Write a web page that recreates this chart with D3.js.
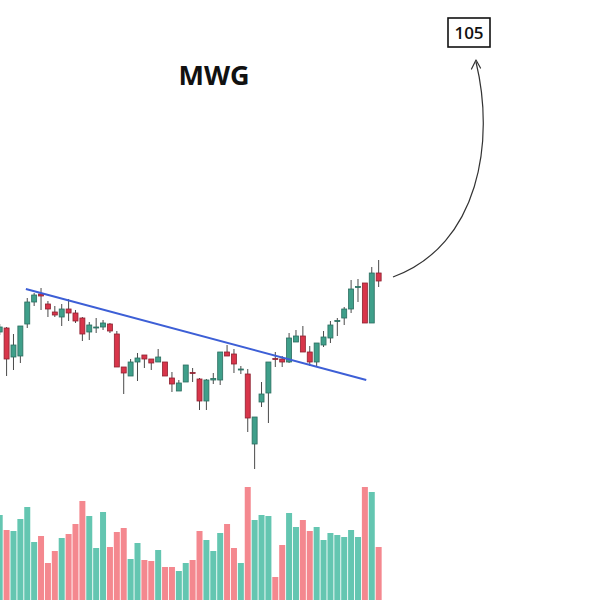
<!DOCTYPE html>
<html>
<head>
<meta charset="utf-8">
<script src="https://cdn.jsdelivr.net/npm/d3@7"></script>
<style>
  html, body { margin: 0; padding: 0; background: #fff; }
  svg { display: block; }
</style>
</head>
<body>
<svg id="chart" width="600" height="600"></svg>
<script>
// Daily sessions (index) with open / high / low / close and volume
const sessions = d3.range(56);
const opens  = [54.8,55.2,52.3,52.4,55.6,57.8,58.6,57.6,56.8,56.3,57.1,56.7,56.2,54.8,55.2,55.3,55.6,54.6,51.3,50.4,51.8,52.5,52.1,51.8,51.8,50.2,48.9,49.8,50.75,50.1,47.9,50.0,50.0,52.8,52.6,51.0,50.6,43.6,47.8,48.7,52.15,52.1,51.8,53.8,54.4,52.8,51.8,53.5,54.2,55.85,56.2,57.1,59.25,59.7,55.7,60.7];
const highs  = [55.6,55.3,54.6,55.4,58.2,58.7,59.2,57.9,57.4,57.6,58.1,57.0,56.3,55.8,56.2,56.0,55.7,54.9,51.3,52.1,52.7,52.5,52.1,53.1,51.8,50.8,50.0,51.5,51.2,50.2,50.1,50.7,52.8,53.5,53.1,51.4,51.1,46.3,49.8,51.8,52.8,52.4,54.7,55.0,55.4,53.4,53.7,54.9,55.9,56.2,57.3,60.0,60.1,59.7,61.3,62.0];
const lows   = [54.5,50.4,51.0,51.7,55.2,57.4,57.0,56.3,56.3,55.4,55.9,55.7,53.9,54.0,54.7,55.0,54.7,51.3,48.6,50.4,49.9,51.2,51.0,51.8,50.4,48.8,48.9,49.8,49.8,47.0,47.0,49.6,49.5,52.4,50.7,50.6,44.8,41.1,47.3,45.7,51.3,51.3,51.7,53.8,52.8,51.4,51.3,53.3,53.7,54.4,55.5,56.7,57.8,55.7,55.7,59.3];
const closes = [55.3,52.1,53.5,55.4,57.8,58.5,58.4,57.1,56.5,57.1,56.7,55.9,54.6,55.5,55.3,55.7,54.9,51.3,50.7,51.8,52.2,52.1,51.7,52.3,50.4,49.6,49.7,51.5,50.65,47.9,50.0,50.15,52.8,52.4,51.6,51.1,46.2,46.3,48.6,51.8,52.05,51.8,54.2,54.4,52.8,51.8,53.7,54.3,55.5,55.95,57.1,59.1,59.35,55.7,60.7,59.9];
const volumes = [85,70,69,81,93,58,64,37,49,62,66,76,99,84,52,88,53,68,72,41,57,40,39,50,33,33,29,37,40,69,60,49,67,76,52,37,113,80,85,84,23,55,87,73,80,69,73,60,67,65,63,70,63,113,108,53];

// Descending resistance line: [session, price]
const trendFrom = [3.8, 59.1];
const trendTo   = [53.2, 50.0];

const titleText = "MWG";
const targetText = "105";

const svg = d3.select("#chart");
const W = 600, H = 600;

const x = d3.scaleBand().domain(sessions).range([-3.75, 382.1]).padding(0);
const xc = i => x(i) + x.bandwidth() / 2;
const xl = d3.scaleLinear().domain([0, 55]).range([xc(0), xc(55)]);
const y = d3.scaleLinear().domain([28, 88]).range([H, 0]);
const yv = d3.scaleLinear().domain([0, 120]).range([H, 480]);

const upVol = "#64c6b1", downVol = "#f4888f";
const upBody = "#3f9f8a", downBody = "#d8354a";
const upEdge = "#2b6d5f", downEdge = "#8e2231";

const rows = sessions.map(i => ({
  i, o: opens[i], h: highs[i], l: lows[i], c: closes[i], v: volumes[i]
}));
const isUp = d => d.c >= d.o;

// Volume bars
svg.append("g").selectAll("rect").data(rows).join("rect")
  .attr("x", d => xc(d.i) - 3)
  .attr("width", 6)
  .attr("y", d => yv(d.v))
  .attr("height", d => H - yv(d.v))
  .attr("fill", d => isUp(d) ? upVol : downVol);

// Candles
const candles = svg.append("g");
candles.selectAll("line").data(rows).join("line")
  .attr("x1", d => xc(d.i)).attr("x2", d => xc(d.i))
  .attr("y1", d => y(d.h)).attr("y2", d => y(d.l))
  .attr("stroke", "#4a4a4a").attr("stroke-width", 1);
candles.selectAll("rect").data(rows).join("rect")
  .attr("x", d => xc(d.i) - 2.5)
  .attr("width", 5)
  .attr("y", d => y(Math.max(d.o, d.c)))
  .attr("height", d => Math.max(1, Math.abs(y(d.o) - y(d.c))))
  .attr("fill", d => isUp(d) ? upBody : downBody)
  .attr("stroke", d => isUp(d) ? upEdge : downEdge)
  .attr("stroke-width", 0.8);

// Trendline
svg.append("line")
  .attr("x1", xl(trendFrom[0])).attr("y1", y(trendFrom[1]))
  .attr("x2", xl(trendTo[0])).attr("y2", y(trendTo[1]))
  .attr("stroke", "#3d5fd6").attr("stroke-width", 2);

// Title
svg.append("text")
  .attr("x", 214).attr("y", 85)
  .attr("text-anchor", "middle")
  .attr("font-family", "Open Sans, sans-serif")
  .attr("font-weight", "bold")
  .attr("font-size", 27)
  .attr("fill", "#111")
  .text(titleText);

// Target box
svg.append("rect")
  .attr("x", 448).attr("y", 18).attr("width", 42).attr("height", 29)
  .attr("fill", "#fff").attr("stroke", "#111").attr("stroke-width", 1.6);
svg.append("text")
  .attr("x", 469).attr("y", 39)
  .attr("text-anchor", "middle")
  .attr("font-family", "Open Sans, sans-serif")
  .attr("font-weight", 600)
  .attr("font-size", 17)
  .attr("fill", "#111")
  .text(targetText);

// Curved projection arrow
const arrow = d3.path();
arrow.moveTo(393, 277);
arrow.bezierCurveTo(480, 245, 495, 140, 476, 62);
svg.append("path")
  .attr("d", arrow.toString())
  .attr("fill", "none").attr("stroke", "#333").attr("stroke-width", 1.2);
svg.append("path")
  .attr("d", "M471.5,69 L476,60 L480.5,68")
  .attr("fill", "none").attr("stroke", "#333").attr("stroke-width", 1.2)
  .attr("stroke-linejoin", "round").attr("stroke-linecap", "round");
</script>
</body>
</html>
